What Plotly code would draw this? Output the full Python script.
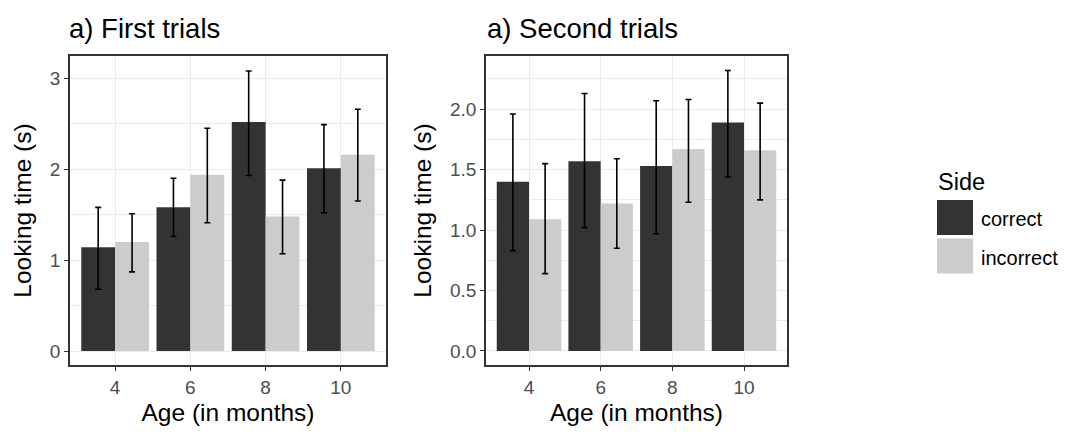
import plotly.graph_objects as go

ages = ["4", "6", "8", "10"]
sides = ["correct", "incorrect"]
colors = {"correct": "#333333", "incorrect": "#cccccc"}

# Panel a) First trials
first_correct = [1.14, 1.58, 2.52, 2.01]
first_correct_hi = [1.58, 1.90, 3.08, 2.49]
first_correct_lo = [0.68, 1.26, 1.93, 1.52]
first_incorrect = [1.20, 1.94, 1.48, 2.16]
first_incorrect_hi = [1.51, 2.45, 1.88, 2.66]
first_incorrect_lo = [0.87, 1.41, 1.07, 1.65]

# Panel a) Second trials
second_correct = [1.40, 1.57, 1.53, 1.89]
second_correct_hi = [1.96, 2.13, 2.07, 2.32]
second_correct_lo = [0.83, 1.02, 0.97, 1.44]
second_incorrect = [1.09, 1.22, 1.67, 1.66]
second_incorrect_hi = [1.55, 1.59, 2.08, 2.05]
second_incorrect_lo = [0.64, 0.85, 1.23, 1.25]

panels = [
    ("x", "y", {"correct": (first_correct, first_correct_hi, first_correct_lo),
                "incorrect": (first_incorrect, first_incorrect_hi, first_incorrect_lo)}),
    ("x2", "y2", {"correct": (second_correct, second_correct_hi, second_correct_lo),
                  "incorrect": (second_incorrect, second_incorrect_hi, second_incorrect_lo)}),
]

W, H = 1065, 435
fig = go.Figure()
for xa, ya, d in panels:
    for s in sides:
        m, hi, lo = d[s]
        fig.add_trace(go.Bar(
            x=ages, y=m, name=s, xaxis=xa, yaxis=ya, showlegend=False,
            marker=dict(color=colors[s], line=dict(width=0)),
            offsetgroup=s,
            error_y=dict(type="data", symmetric=False,
                         array=[h - v for h, v in zip(hi, m)],
                         arrayminus=[v - l for v, l in zip(m, lo)],
                         color="black", thickness=1.6, width=3),
        ))

FONT = "Liberation Sans, Arial, sans-serif"
grid = "#ebebeb"
frame = "#333333"

def xaxis(domain, anchor):
    return dict(domain=domain, anchor=anchor, type="category", range=[-0.6, 3.6],
                showgrid=True, gridcolor=grid, gridwidth=1.3,
                showline=True, mirror=True, linecolor=frame, linewidth=1.5,
                ticks="outside", ticklen=4, tickcolor=frame, tickwidth=1.3,
                tickfont=dict(size=19, color="#4d4d4d", family=FONT),
                title=dict(text="Age (in months)", font=dict(size=24.5, color="black", family=FONT), standoff=7),
                zeroline=False)

def yaxis(domain, anchor, rng, tickvals, ticktext, minor_dtick):
    return dict(domain=domain, anchor=anchor, range=rng,
                tickmode="array", tickvals=tickvals, ticktext=ticktext,
                showgrid=True, gridcolor=grid, gridwidth=1.3,
                minor=dict(tickmode="linear", tick0=0, dtick=minor_dtick, showgrid=True,
                           gridcolor=grid, gridwidth=0.7, ticks=""),
                showline=True, mirror=True, linecolor=frame, linewidth=1.5,
                ticks="outside", ticklen=4, tickcolor=frame, tickwidth=1.3,
                tickfont=dict(size=19, color="#4d4d4d", family=FONT),
                title=dict(text="Looking time (s)", font=dict(size=24.5, color="black", family=FONT), standoff=11),
                zeroline=False)

ydom = [1 - 365 / H, 1 - 56 / H]
fig.update_layout(
    width=W, height=H, margin=dict(l=0, r=0, t=0, b=0),
    paper_bgcolor="white", plot_bgcolor="white",
    barmode="group", bargap=0.1, bargroupgap=0,
    font=dict(family=FONT),
    xaxis=xaxis([70 / W, 386 / W], "y"),
    yaxis=yaxis(ydom, "x", [-0.154, 3.245], [0, 1, 2, 3], ["0", "1", "2", "3"], 0.5),
    xaxis2=xaxis([486 / W, 787 / W], "y2"),
    yaxis2=yaxis(ydom, "x2", [-0.116, 2.44], [0, 0.5, 1, 1.5, 2],
                 ["0.0", "0.5", "1.0", "1.5", "2.0"], 0.25),
)

# Panel titles
for xp, txt in [(67, "a) First trials"), (485, "a) Second trials")]:
    fig.add_annotation(x=xp / W, y=1 - 29 / H, xref="paper", yref="paper",
                       xanchor="left", yanchor="middle", showarrow=False,
                       text=txt, font=dict(size=27.5, color="black", family=FONT))

# Legend (drawn manually to match key sizes)
fig.add_annotation(x=936 / W, y=1 - 182 / H, xref="paper", yref="paper",
                   xanchor="left", yanchor="middle", showarrow=False,
                   text="Side", font=dict(size=23.5, color="black", family=FONT))
for i, s in enumerate(sides):
    top = 200 + i * 38.5
    fig.add_shape(type="rect", xref="paper", yref="paper",
                  x0=937 / W, x1=973 / W, y0=1 - (top + 35) / H, y1=1 - top / H,
                  fillcolor=colors[s], line=dict(width=0))
    fig.add_annotation(x=979 / W, y=1 - (top + 19) / H, xref="paper", yref="paper",
                       xanchor="left", yanchor="middle", showarrow=False,
                       text=s, font=dict(size=20, color="black", family=FONT))

fig.write_html("out.html", config={"displayModeBar": False},
               post_script="document.body.style.margin='0';document.body.style.overflow='hidden';")
